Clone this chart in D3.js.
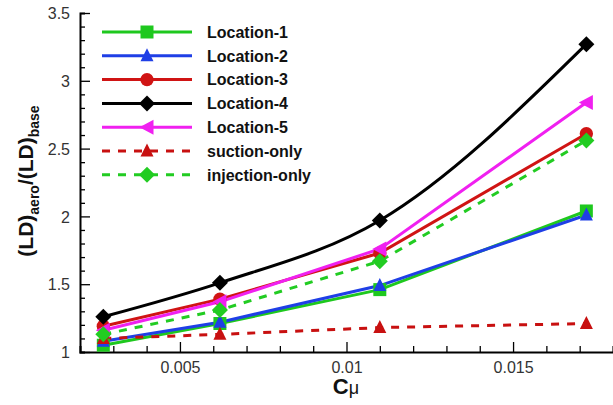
<!DOCTYPE html>
<html>
<head>
<meta charset="utf-8">
<script src="https://cdn.jsdelivr.net/npm/d3@7"></script>
<style>
  body { margin: 0; background: #fff; }
  svg { display: block; font-family: Arial, "Liberation Sans", sans-serif; }
</style>
</head>
<body>
<svg id="chart" width="613" height="405"></svg>
<script>
const cmu = [0.0027, 0.0062, 0.011, 0.0172];

const location1 = [1.05, 1.21, 1.46, 2.04];
const location2 = [1.08, 1.22, 1.49, 2.01];
const location3 = [1.19, 1.39, 1.73, 2.61];
const location4 = [1.26, 1.51, 1.97, 3.27];
const location5 = [1.16, 1.37, 1.76, 2.84];
const suctionOnly = [1.10, 1.13, 1.18, 1.21];
const injectionOnly = [1.13, 1.31, 1.67, 2.56];

const seriesNames = ["Location-1", "Location-2", "Location-3", "Location-4", "Location-5", "suction-only", "injection-only"];
const yTicks = [1, 1.5, 2, 2.5, 3, 3.5];
const xTicks = [0.005, 0.01, 0.015];

const width = 613, height = 405;
const margin = { left: 80, right: 0, top: 13, bottom: 53 };

const svg = d3.select('#chart');

const x = d3.scaleLinear().domain([0.002, 0.018]).range([margin.left, width - margin.right]);
const y = d3.scaleLinear().domain([1, 3.5]).range([height - margin.bottom, margin.top]);

// Location-4 is drawn as a smooth curve in the original, the rest as straight segments
const series = [
  { name: seriesNames[0], values: location1, color: "#1ec81e", dash: null, marker: "square", smooth: false },
  { name: seriesNames[1], values: location2, color: "#1f3fe6", dash: null, marker: "triangle", smooth: false },
  { name: seriesNames[2], values: location3, color: "#d01414", dash: null, marker: "circle", smooth: false },
  { name: seriesNames[3], values: location4, color: "#000000", dash: null, marker: "diamond", smooth: true },
  { name: seriesNames[4], values: location5, color: "#f020f0", dash: null, marker: "left", smooth: false },
  { name: seriesNames[5], values: suctionOnly, color: "#c81010", dash: "8,8", marker: "triangle", smooth: false },
  { name: seriesNames[6], values: injectionOnly, color: "#22cc22", dash: "8,8", marker: "diamond", smooth: false }
];

// marker paths centred on 0,0
const markerPath = type => {
  switch (type) {
    case "square": return "M-6.5,-6.5H6.5V6.5H-6.5Z";
    case "triangle": return "M0,-7.5L6.5,5.5H-6.5Z";
    case "circle": return d3.symbol(d3.symbolCircle, 140)();
    case "diamond": return "M0,-8L8,0L0,8L-8,0Z";
    case "left": return "M-7.5,0L6.5,-7.5V7.5Z";
  }
};

// axes (ticks point inward)
const xAxis = d3.axisBottom(x)
  .tickValues(d3.range(3, 19).map(i => i / 1000))
  .tickSize(-6)
  .tickFormat(d => {
    const hit = xTicks.find(t => Math.abs(t - d) < 1e-9);
    return hit ? String(hit) : "";
  });

const gx = svg.append("g")
  .attr("transform", `translate(0,${height - margin.bottom})`)
  .call(xAxis);
gx.selectAll(".tick line")
  .attr("y2", d => xTicks.some(t => Math.abs(t - d) < 1e-9) ? -10 : -6);

const yAxis = d3.axisLeft(y)
  .tickValues(d3.range(10, 36).map(i => i / 10))
  .tickSize(-5)
  .tickFormat(d => {
    const hit = yTicks.find(t => Math.abs(t - d) < 1e-9);
    return hit !== undefined ? String(hit) : "";
  });

const gy = svg.append("g")
  .attr("transform", `translate(${margin.left},0)`)
  .call(yAxis);
gy.selectAll(".tick line")
  .attr("x2", d => yTicks.some(t => Math.abs(t - d) < 1e-9) ? 10 : 5);

[gx, gy].forEach(g => {
  g.select(".domain").attr("stroke", "#000").attr("stroke-width", 2);
  g.selectAll(".tick line").attr("stroke", "#000").attr("stroke-width", 1.3);
  g.selectAll(".tick text").attr("font-size", 16).attr("fill", "#333")
    .attr("font-family", "Arial, 'Liberation Sans', sans-serif");
});
gx.selectAll(".tick text").attr("dy", "1.1em");
gy.selectAll(".tick text").attr("x", -10).attr("dy", "0.35em");

// lines and markers
const straight = d3.line()
  .x((d, i) => x(cmu[i]))
  .y(d => y(d));
const smooth = d3.line()
  .x((d, i) => x(cmu[i]))
  .y(d => y(d))
  .curve(d3.curveMonotoneX);

series.forEach(s => {
  svg.append("path")
    .datum(s.values)
    .attr("fill", "none")
    .attr("stroke", s.color)
    .attr("stroke-width", 3)
    .attr("stroke-dasharray", s.dash)
    .attr("d", s.smooth ? smooth : straight);
});

series.forEach(s => {
  svg.append("g").selectAll("path")
    .data(s.values)
    .enter().append("path")
      .attr("transform", (d, i) => `translate(${x(cmu[i])},${y(d)})`)
      .attr("d", markerPath(s.marker))
      .attr("fill", s.color);
});

// legend
const legend = svg.append("g");
series.forEach((s, i) => {
  const ly = 32 + i * 23.8;
  legend.append("line")
    .attr("x1", 102).attr("x2", 192)
    .attr("y1", ly).attr("y2", ly)
    .attr("stroke", s.color)
    .attr("stroke-width", 3)
    .attr("stroke-dasharray", s.dash);
  legend.append("path")
    .attr("transform", `translate(147,${ly})`)
    .attr("d", markerPath(s.marker))
    .attr("fill", s.color);
  legend.append("text")
    .attr("x", 207).attr("y", ly)
    .attr("dy", "0.36em")
    .attr("font-size", 16)
    .attr("font-weight", "bold")
    .attr("fill", "#111")
    .text(s.name);
});

// axis titles
const yTitle = svg.append("text")
  .attr("transform", "translate(33,181) rotate(-90)")
  .attr("text-anchor", "middle")
  .attr("font-size", 21)
  .attr("font-weight", "bold")
  .attr("fill", "#111");
yTitle.append("tspan").text("(LD)");
yTitle.append("tspan").attr("font-size", 14).attr("dy", 6).text("aero");
yTitle.append("tspan").attr("dy", -6).text("/(LD)");
yTitle.append("tspan").attr("font-size", 14).attr("dy", 6).text("base");

const xTitle = svg.append("text")
  .attr("x", 346).attr("y", 394)
  .attr("text-anchor", "middle")
  .attr("fill", "#111");
xTitle.append("tspan").attr("font-size", 22).attr("font-weight", "bold").text("C");
xTitle.append("tspan").attr("font-size", 18).text("μ");
</script>
</body>
</html>
